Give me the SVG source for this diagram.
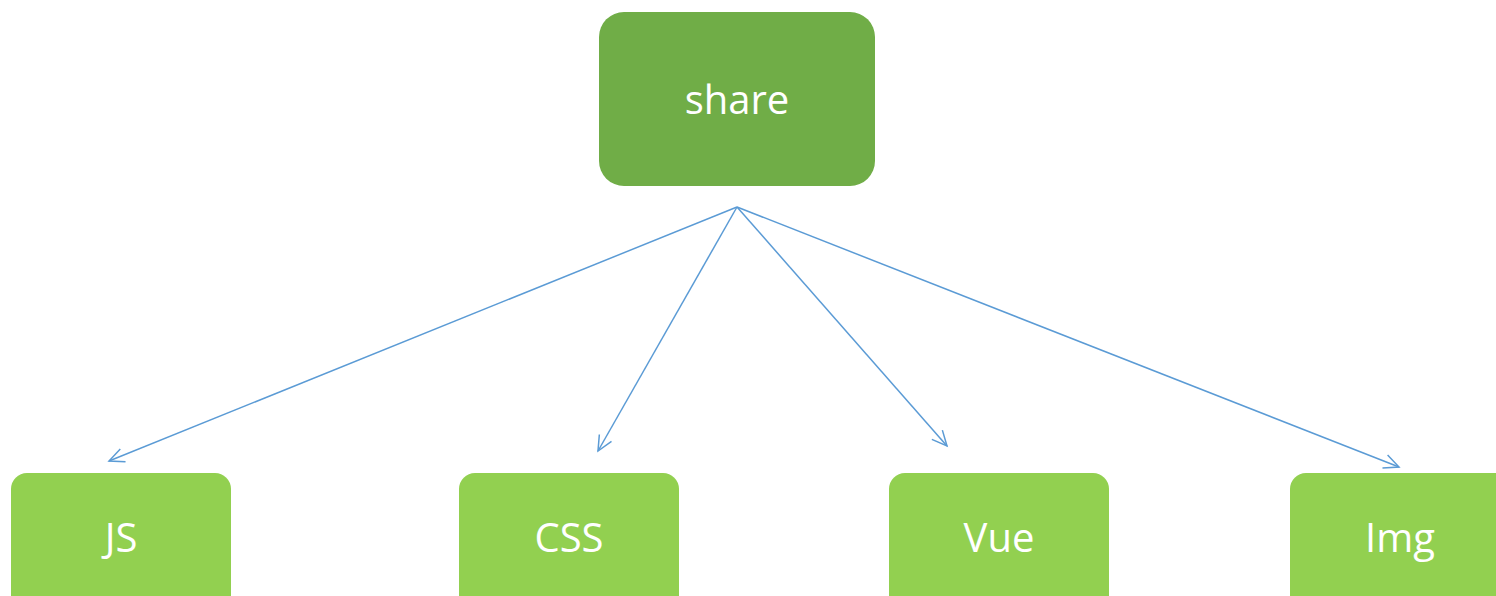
<svg xmlns="http://www.w3.org/2000/svg" width="1496" height="596" viewBox="0 0 1496 596">
<style>
.top{fill:#70AD47}
.leaf{fill:#92D050}
.lbl{font-family:"Open Sans","Liberation Sans",sans-serif;fill:#fff;text-anchor:middle;dominant-baseline:central}
.edge{stroke:#5B9BD5;stroke-width:1.5;fill:none}
</style>
<defs>
<marker id="arr" viewBox="0 0 20 20" refX="16" refY="10" markerWidth="20" markerHeight="20" markerUnits="userSpaceOnUse" orient="auto">
<path d="M1,3 L16,10 L1,17" fill="none" stroke="#5B9BD5" stroke-width="1.5"/>
</marker>
</defs>
<rect width="1496" height="596" fill="#fff"/>
<g id="connectors">
<line class="edge" x1="737" y1="207" x2="109" y2="461" marker-end="url(#arr)"/>
<line class="edge" x1="737" y1="207" x2="598" y2="451" marker-end="url(#arr)"/>
<line class="edge" x1="737" y1="207" x2="947" y2="446" marker-end="url(#arr)"/>
<line class="edge" x1="737" y1="207" x2="1399" y2="467" marker-end="url(#arr)"/>
</g>
<g id="share">
<rect class="top" x="599" y="12" width="276" height="174" rx="25"/>
<text class="lbl" x="737" y="98" font-size="40">share</text>
</g>
<g id="js">
<rect class="leaf" x="11" y="473" width="220" height="140" rx="16"/>
<text class="lbl" x="121" y="536" font-size="40">JS</text>
</g>
<g id="css">
<rect class="leaf" x="459" y="473" width="220" height="140" rx="16"/>
<text class="lbl" x="569" y="536" font-size="40">CSS</text>
</g>
<g id="vue">
<rect class="leaf" x="889" y="473" width="220" height="140" rx="16"/>
<text class="lbl" x="999" y="536" font-size="40">Vue</text>
</g>
<g id="img">
<rect class="leaf" x="1290" y="473" width="220" height="140" rx="16"/>
<text class="lbl" x="1400" y="536" font-size="40">Img</text>
</g>
</svg>
